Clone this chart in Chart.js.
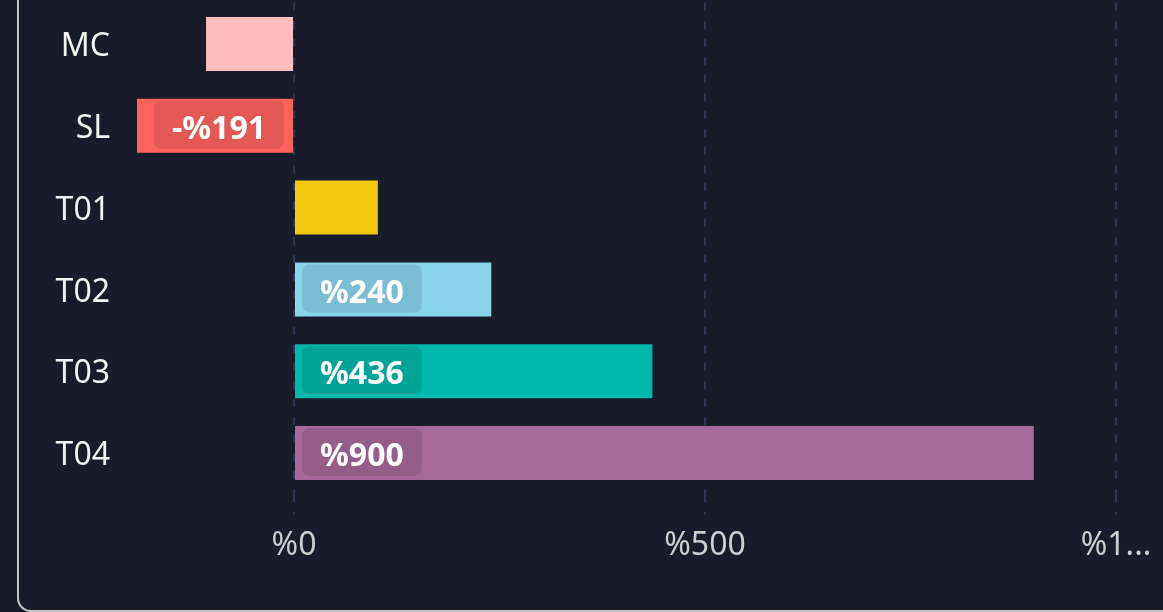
<!DOCTYPE html>
<html>
<head>
<meta charset="utf-8">
<script src="https://cdn.jsdelivr.net/npm/chart.js@4.4.1/dist/chart.umd.min.js"></script>
<style>
  html, body { margin: 0; padding: 0; background: #181b29; width: 1163px; height: 612px; overflow: hidden; }
  #card { position: absolute; left: 17px; top: -30px; width: 1400px; height: 642px; border: 2px solid #c4c4c4; border-radius: 14px; box-sizing: border-box; }
  #wrap { position: absolute; left: 0; top: 0; width: 1163px; height: 612px; }
</style>
</head>
<body>
<div id="card"></div>
<div id="wrap"><canvas id="c" width="1163" height="612"></canvas></div>
<script>
const categories = ['MC', 'SL', 'T01', 'T02', 'T03', 'T04'];
const values = [-107, -191, 102, 240, 436, 900];
const barColors = ['#ffbdbd', '#fd625e', '#f2c80f', '#8ad4eb', '#01b8aa', '#a66999'];
const tickValues = [0, 500, 1000];

const FONT = '"Noto Sans", "Open Sans", sans-serif';

function fmt(v) { return (v < 0 ? '-%' : '%') + Math.abs(v); }

const labelPlugin = {
  id: 'barLabels',
  afterLayout(chart) {
    // truncate x tick labels that would run past the right edge
    const sc = chart.scales.x;
    const ctx = chart.ctx;
    const limit = chart.width - 7;
    ctx.save();
    ctx.font = '32px ' + FONT;
    sc.ticks.forEach(t => {
      let s = String(t.label);
      const px = sc.getPixelForValue(t.value);
      if (px + ctx.measureText(s).width / 2 > limit) {
        while (s.length > 1 && px + ctx.measureText(s + '...').width / 2 > limit) s = s.slice(0, -1);
        t.label = s + '...';
      }
    });
    ctx.restore();
    sc._labelItems = null;
  },
  afterDatasetsDraw(chart) {
    const ctx = chart.ctx;
    const meta = chart.getDatasetMeta(0);
    ctx.save();
    ctx.font = 'bold 32px ' + FONT;
    ctx.textAlign = 'center';
    ctx.textBaseline = 'middle';
    meta.data.forEach((bar, i) => {
      const v = values[i];
      const text = fmt(v);
      const tw = ctx.measureText(text).width;
      const bw = tw + 36;
      const bh = 48;
      const base = bar.base;
      const barLen = Math.abs(bar.x - base);
      if (bw + 16 > barLen) return;
      const x0 = v >= 0 ? base + 7 : base - 9 - bw;
      const y0 = bar.y - bh / 2 - 1;
      ctx.fillStyle = 'rgba(0,0,0,0.1)';
      ctx.beginPath();
      ctx.roundRect(x0, y0, bw, bh, 7);
      ctx.fill();
      ctx.fillStyle = '#ffffff';
      ctx.fillText(text, x0 + bw / 2, bar.y + 4);
    });
    ctx.restore();
  }
};

new Chart(document.getElementById('c'), {
  type: 'bar',
  data: {
    labels: categories,
    datasets: [{
      data: values,
      backgroundColor: barColors,
      borderWidth: 0,
      barPercentage: 0.66,
      categoryPercentage: 1
    }]
  },
  options: {
    indexAxis: 'y',
    responsive: false,
    animation: false,
    layout: { padding: { top: 3, right: 47, left: 0, bottom: 0 } },
    plugins: { legend: { display: false }, tooltip: { enabled: false } },
    scales: {
      x: {
        min: Math.min(...values),
        max: tickValues[tickValues.length - 1],
        afterBuildTicks: axis => { axis.ticks = tickValues.map(v => ({ value: v })); },
        afterFit: axis => { axis.height = 118; axis.paddingLeft = 0; axis.paddingRight = 0; },
        border: { display: false, dash: [8, 10] },
        grid: {
          color: '#2e3658',
          lineWidth: 2,
          tickBorderDash: [8, 10],
          drawTicks: true,
          tickLength: 21,
          tickColor: '#2e3658'
        },
        ticks: {
          color: '#cdcdd0',
          font: { family: FONT, size: 32 },
          padding: 12,
          maxRotation: 0,
          callback: v => '%' + v
        }
      },
      y: {
        afterFit: axis => { axis.width = 137; axis.paddingTop = 0; axis.paddingBottom = 0; },
        border: { display: false },
        grid: { display: false, drawTicks: false },
        ticks: {
          color: '#f2f2f2',
          font: { family: FONT, size: 32 },
          padding: 27,
          labelOffset: 3
        }
      }
    }
  },
  plugins: [labelPlugin]
});
</script>
</body>
</html>
